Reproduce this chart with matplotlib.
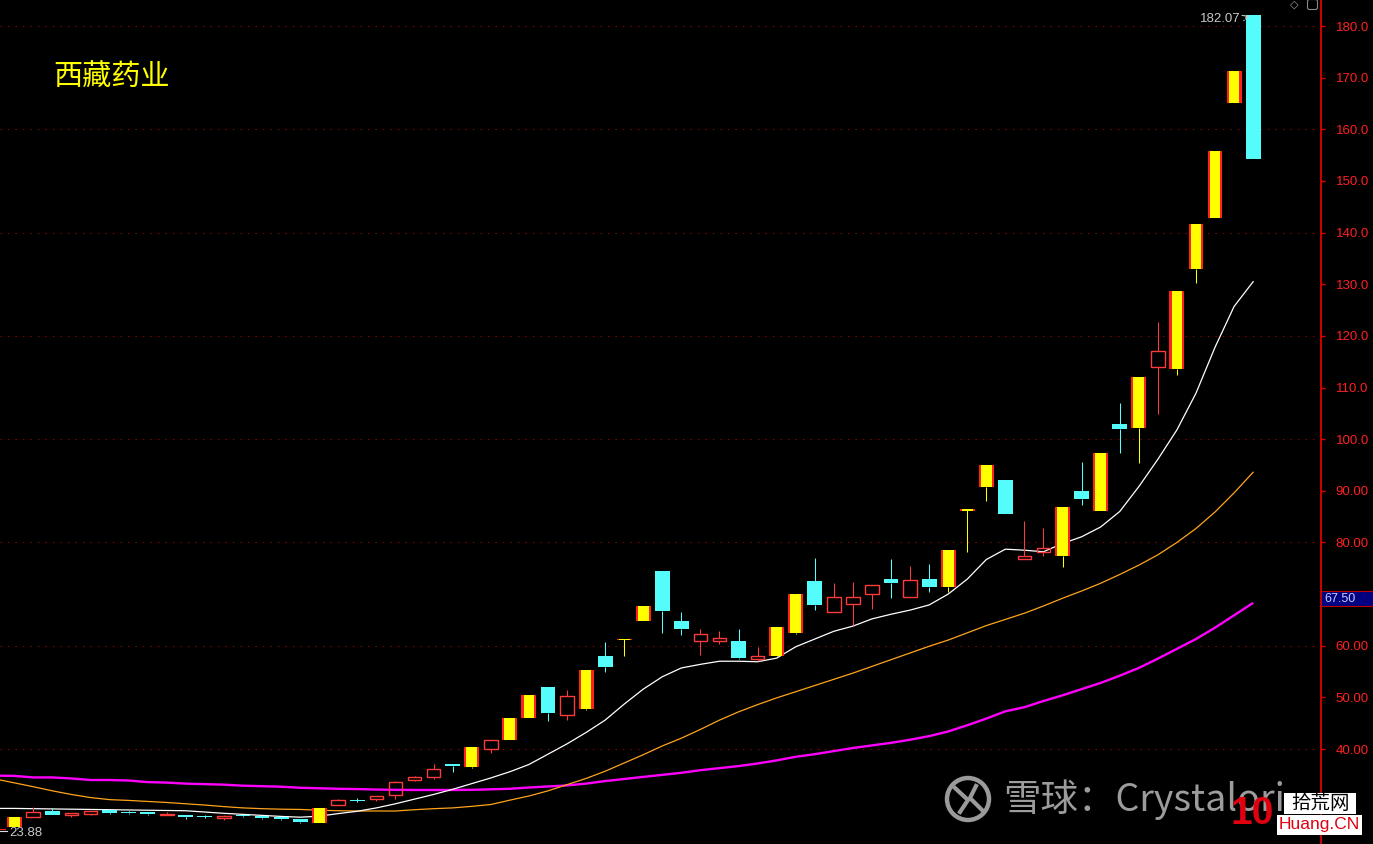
import numpy as np
import matplotlib
matplotlib.use("Agg")
import matplotlib.pyplot as plt
from matplotlib.patches import Rectangle, Circle, FancyBboxPatch
from matplotlib.ticker import FixedLocator, FixedFormatter

# ---------------- data ----------------
title = "西藏药业"
opens  = [24.96, 26.9, 28.06, 27.3, 27.5, 28.25, 27.8, 27.8, 27.35, 27.2,
          27.05, 26.6, 27.3, 27.1, 26.9, 26.45, 25.7, 29.1, 30.15, 30.27,
          31.04, 33.95, 34.5, 37.05, 36.6, 39.95, 41.8, 46.1, 52.0, 46.6,
          47.75, 58.0, 61.4, 64.8, 74.5, 64.8, 61.0, 61.0, 60.9, 57.4,
          58.1, 62.5, 72.55, 66.5, 68.0, 69.95, 72.9, 69.4, 72.9, 71.45,
          86.4, 90.8, 92.1, 76.86, 78.1, 77.4, 90.0, 86.15, 102.9, 102.2,
          113.9, 113.6, 132.9, 142.9, 165.0, 182.07]
highs  = [26.84, 28.8, 28.5, 27.67, 28.0, 28.25, 28.0, 27.8, 27.75, 27.2,
          27.2, 27.2, 27.3, 27.1, 26.9, 26.45, 28.6, 30.3, 30.6, 30.85,
          33.8, 34.75, 37.1, 37.05, 40.4, 41.7, 46.0, 50.45, 52.0, 51.4,
          55.3, 60.7, 61.4, 67.7, 74.5, 66.5, 63.25, 62.85, 63.25, 59.75,
          63.6, 70.0, 77.0, 72.15, 72.35, 71.75, 76.8, 75.45, 75.85, 78.55,
          86.4, 95.0, 92.1, 84.2, 82.8, 86.9, 95.6, 97.3, 106.95, 112.0,
          122.7, 128.7, 141.7, 155.8, 171.3, 182.07]
lows   = [24.96, 26.9, 27.2, 26.9, 27.2, 27.4, 27.4, 27.2, 27.35, 26.5,
          26.7, 26.3, 26.8, 26.45, 26.25, 25.7, 25.7, 29.1, 29.7, 30.0,
          30.4, 33.8, 34.25, 35.6, 36.35, 39.3, 41.8, 46.1, 45.5, 45.7,
          47.6, 55.0, 58.0, 64.8, 62.5, 62.1, 58.2, 60.4, 57.4, 57.0,
          57.9, 62.2, 67.0, 66.5, 64.0, 67.05, 69.3, 69.4, 70.5, 70.5,
          78.2, 88.1, 85.6, 76.86, 77.45, 75.3, 87.25, 86.15, 97.4, 95.45,
          104.9, 112.5, 130.2, 142.9, 165.0, 154.3]
closes = [26.84, 27.8, 27.2, 27.67, 28.0, 27.6, 27.7, 27.5, 27.5, 26.85,
          26.95, 27.0, 27.0, 26.65, 26.45, 25.9, 28.6, 30.07, 30.05, 30.85,
          33.6, 34.5, 36.1, 36.8, 40.4, 41.7, 46.0, 50.45, 47.0, 50.3,
          55.3, 55.95, 61.4, 67.7, 66.7, 63.25, 62.25, 61.45, 57.7, 57.95,
          63.6, 70.0, 67.95, 69.45, 69.45, 71.75, 72.2, 72.7, 71.45, 78.55,
          86.4, 95.0, 85.6, 77.38, 78.9, 86.9, 88.5, 97.3, 102.0, 112.0,
          117.1, 128.7, 141.7, 155.8, 171.3, 154.3]
limit_up = [1, 0, 0, 0, 0, 0, 0, 0, 0, 0,
            0, 0, 0, 0, 0, 0, 1, 0, 0, 0,
            0, 0, 0, 0, 1, 0, 1, 1, 0, 0,
            1, 0, 1, 1, 0, 0, 0, 0, 0, 0,
            1, 1, 0, 0, 0, 0, 0, 0, 0, 1,
            1, 1, 0, 0, 0, 1, 0, 1, 0, 1,
            0, 1, 1, 1, 1, 0]

# moving averages, first value belongs to the day before the first candle
ma_white = [28.5, 28.5, 28.45, 28.4, 28.35, 28.3, 28.25, 28.2, 28.15, 28.1, 28.05,
            27.8, 27.55, 27.35, 27.15, 26.95, 26.8, 27.0, 27.5, 27.95, 28.6,
            29.4, 30.3, 31.2, 32.2, 33.3, 34.4, 35.6, 37.0, 39.0, 41.0,
            43.2, 45.6, 48.7, 51.6, 54.0, 55.7, 56.4, 57.0, 57.0, 56.9,
            57.6, 59.8, 61.3, 62.8, 63.8, 65.2, 66.1, 66.9, 67.9, 70.0,
            72.9, 76.7, 78.7, 78.5, 78.2, 79.8, 81.1, 83.0, 86.0, 90.8,
            96.1, 101.8, 108.9, 117.8, 125.7, 130.5]
ma_orange = [34.2, 33.45, 32.7, 31.9, 31.2, 30.6, 30.2, 30.05, 29.85, 29.65, 29.4,
             29.15, 28.85, 28.6, 28.45, 28.35, 28.3, 28.15, 28.05, 28.0, 28.0,
             28.0, 28.25, 28.45, 28.6, 28.9, 29.25, 30.1, 30.9, 31.9, 33.1,
             34.3, 35.7, 37.3, 38.9, 40.6, 42.1, 43.8, 45.6, 47.2, 48.6,
             49.9, 51.1, 52.3, 53.5, 54.7, 56.0, 57.3, 58.6, 59.9, 61.1,
             62.5, 63.9, 65.1, 66.3, 67.7, 69.2, 70.6, 72.1, 73.8, 75.6,
             77.6, 80.0, 82.7, 85.9, 89.6, 93.6]
ma_magenta = [34.85, 34.8, 34.5, 34.5, 34.3, 34.0, 34.0, 33.9, 33.6, 33.5, 33.3,
              33.2, 33.1, 32.9, 32.8, 32.7, 32.5, 32.4, 32.3, 32.25, 32.15,
              32.1, 32.07, 32.07, 32.07, 32.1, 32.2, 32.3, 32.55, 32.75, 32.95,
              33.3, 33.8, 34.2, 34.6, 35.0, 35.4, 35.9, 36.3, 36.7, 37.2,
              37.8, 38.5, 39.0, 39.6, 40.2, 40.7, 41.2, 41.8, 42.5, 43.4,
              44.6, 45.9, 47.3, 48.1, 49.3, 50.4, 51.6, 52.8, 54.2, 55.7,
              57.5, 59.4, 61.3, 63.5, 65.9, 68.3]

y_ticks = [30, 40, 50, 60, 70, 80, 90, 100, 110, 120, 130, 140, 150, 160, 170, 180]
# 30 and 70 labels are hidden behind the logo / cursor box in the reference
y_tick_labels = ["", "40.00", "50.00", "60.00", "", "80.00", "90.00", "100.0", "110.0",
                 "120.0", "130.0", "140.0", "150.0", "160.0", "170.0", "180.0"]
grid_levels = [40, 60, 80, 100, 120, 140, 160, 180]
high_label = "182.07"
low_label = "23.88"
cursor_label = "67.50"

# ---------------- figure ----------------
W_PX, H_PX = 1373, 844
AX_RIGHT = 1321
fig = plt.figure(figsize=(W_PX / 100, H_PX / 100), dpi=100, facecolor="black")
ax = fig.add_axes([0, 0, AX_RIGHT / W_PX, 1])
ax.set_facecolor("black")
ax.set_xlim(-0.75, 68.56)
ax.set_ylim(21.61, 185.04)

RED = "#FF2020"
HOLLOW_RED = "#FF3A3A"
YELLOW = "#FFFF00"
CYAN = "#54FCFC"

# grid
for g in grid_levels:
    ax.axhline(g, color="#A00000", lw=0.75, linestyle=(0, (1.2, 6)), zorder=0)

# moving averages
days_ma = np.arange(-1, len(closes))
ax.plot(days_ma, ma_magenta, color="#FF00FF", lw=1.7, zorder=1, solid_capstyle="butt")
ax.plot(days_ma, ma_orange, color="#FFA41C", lw=0.9, zorder=1)
ax.plot(days_ma, ma_white, color="#FFFFFF", lw=0.9, zorder=1)

# candles
BODY_W = 0.78
INNER_W = 0.56
MIN_H = 0.28
WICK_LW = 0.75
for i, (o, h, l, c, lu) in enumerate(zip(opens, highs, lows, closes, limit_up)):
    top, bot = max(o, c), min(o, c)
    if lu:
        wc = YELLOW
    elif c >= o:
        wc = HOLLOW_RED
    else:
        wc = CYAN
    if h > top:
        ax.vlines(i, top, h, color=wc, lw=WICK_LW, zorder=2)
    if l < bot:
        ax.vlines(i, l, bot, color=wc, lw=WICK_LW, zorder=2)
    hgt = max(top - bot, MIN_H)
    if lu:
        ax.add_patch(Rectangle((i - BODY_W / 2, top - hgt), BODY_W, hgt,
                               facecolor=RED, edgecolor="none", zorder=3))
        ax.add_patch(Rectangle((i - INNER_W / 2, top - hgt), INNER_W, hgt,
                               facecolor=YELLOW, edgecolor="none", zorder=4))
    elif c >= o:
        ax.add_patch(Rectangle((i - BODY_W / 2 + 0.03, top - hgt), BODY_W - 0.06, hgt,
                               facecolor="none", edgecolor=HOLLOW_RED, lw=1.0, zorder=3))
    else:
        ax.add_patch(Rectangle((i - BODY_W / 2, top - hgt), BODY_W, hgt,
                               facecolor=CYAN, edgecolor="none", zorder=3))

# axis styling
for s in ["left", "top", "bottom"]:
    ax.spines[s].set_visible(False)
ax.spines["right"].set_color("#E00000")
ax.spines["right"].set_linewidth(1.3)
ax.set_xticks([])
ax.yaxis.tick_right()
ax.yaxis.set_major_locator(FixedLocator(y_ticks))
ax.yaxis.set_major_formatter(FixedFormatter(y_tick_labels))
ax.tick_params(axis="y", direction="out", length=3.2, width=1.0, color="#E00000",
               labelcolor=RED, pad=7.5, labelsize=9.5)
for lab in ax.get_yticklabels():
    lab.set_fontfamily("Liberation Sans")

# ---------------- overlay (annotations / watermarks) ----------------
ov = fig.add_axes([0, 0, 1, 1], zorder=5)
ov.set_xlim(0, W_PX)
ov.set_ylim(H_PX, 0)
ov.axis("off")
ov.patch.set_alpha(0)

CJK = ["Noto Sans CJK SC", "DejaVu Sans"]
ov.text(53, 77, title, color=YELLOW, fontsize=21, family=CJK, va="center", ha="left")

# high label
ov.text(1241, 19, high_label, color="#C8C8C8", fontsize=9.5, family="Liberation Sans",
        va="center", ha="right")
ov.annotate("", xy=(1252, 15), xytext=(1243, 18),
            arrowprops=dict(arrowstyle="->", color="#C8C8C8", lw=0.8, linestyle="--"))
# low label
ov.plot([0, 7], [831, 831], color="#DDDDDD", lw=0.8)
ov.plot([0, 5], [829, 829], color=RED, lw=0.8)
ov.text(9, 833, low_label, color="#C8C8C8", fontsize=9.5, family="Liberation Sans",
        va="center", ha="left")

# icons top right
ov.text(1294, 5, "◇", color="#9A9A9A", fontsize=8, family="DejaVu Sans", va="center", ha="center")
ov.add_patch(FancyBboxPatch((1308, 0), 9, 9, boxstyle="round,pad=0.5,rounding_size=2",
                            facecolor="none", edgecolor="#8A8A8A", lw=0.8))

# cursor price box
ov.add_patch(Rectangle((AX_RIGHT, 591), W_PX - AX_RIGHT, 15, facecolor="#000080",
                       edgecolor="#C00000", lw=0.8))
ov.text(1324, 598.5, cursor_label, color="#C8C8FF", fontsize=9, family="Liberation Sans",
        va="center", ha="left")

# snowball watermark
ov.add_patch(Circle((968, 799), 21, facecolor="none", edgecolor="#9A9A9A", lw=3.2))
ov.plot([955, 968, 960], [788, 800, 812], color="#9A9A9A", lw=3.0)
ov.plot([976, 970, 982], [786, 798, 810], color="#9A9A9A", lw=3.0)
ov.text(1003, 800, "雪球：Crystalori", color="#9C9C9C", fontsize=27, family=CJK,
        va="center", ha="left")

# 10huang logo
ov.add_patch(Rectangle((1284, 793), 72, 21, facecolor="white", edgecolor="none", zorder=6))
ov.text(1320, 803.5, "拾荒网", color="black", fontsize=14, family=CJK, va="center",
        ha="center", zorder=7)
ov.add_patch(Rectangle((1277, 815), 85, 20, facecolor="white", edgecolor="none", zorder=6))
ov.text(1319, 825, "Huang.CN", color="#E00010", fontsize=12.5, family="Liberation Sans",
        va="center", ha="center", zorder=7)
ov.text(1252, 814, "10", color="#E00010", fontsize=28, family="Liberation Sans",
        weight="bold", va="center", ha="center", zorder=8)

fig.savefig("out.png", dpi=100, facecolor="black")
